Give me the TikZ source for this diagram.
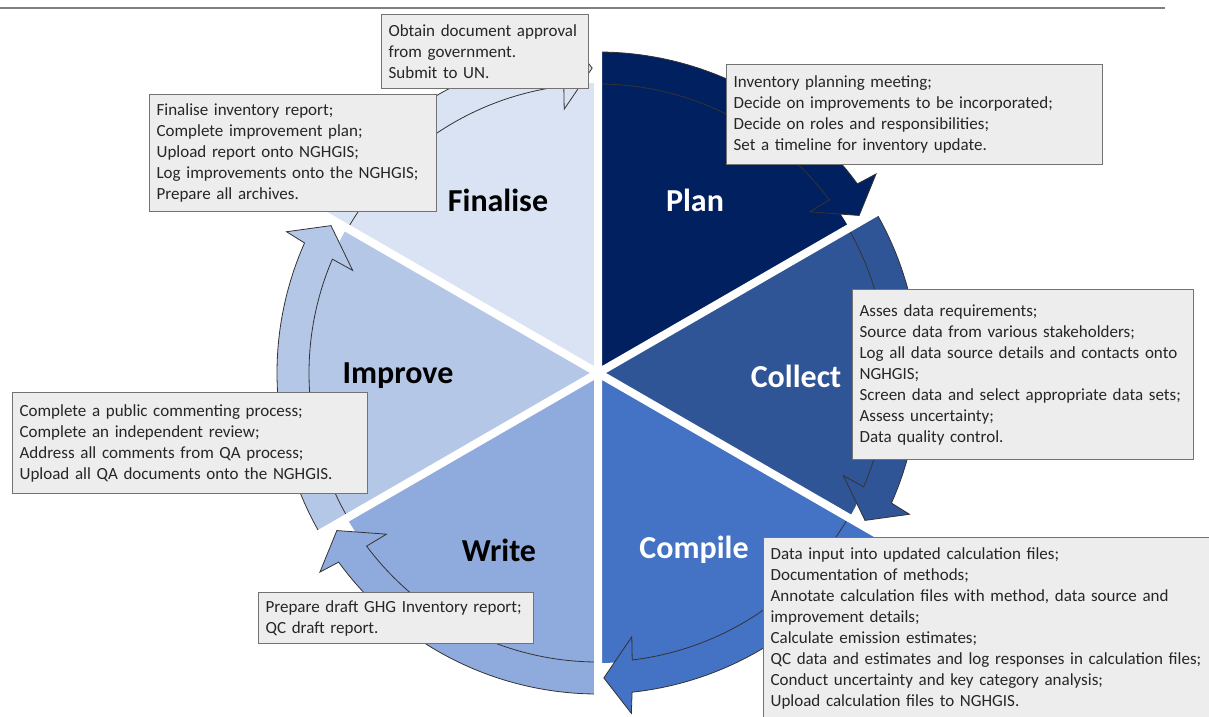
\documentclass[tikz,border=0pt]{standalone}
\usepackage{fontspec}
\setmainfont{Carlito}
\definecolor{plancol}{HTML}{002060}
\definecolor{collcol}{HTML}{2F5597}
\definecolor{compcol}{HTML}{4472C4}
\definecolor{writcol}{HTML}{8FAADC}
\definecolor{imprcol}{HTML}{B4C7E7}
\definecolor{finacol}{HTML}{DAE3F3}
\definecolor{notefill}{HTML}{EDEDED}
\begin{document}
\begin{tikzpicture}[x=1pt,y=1pt,
  band/.style={fill=#1,draw=black!80,line width=0.8pt,line join=miter},
  gap/.style={white,line width=8pt},
  lbl/.style={font=\fontsize{32}{38}\selectfont\bfseries},
  note/.style={draw=black!55,fill=notefill,line width=1.2pt,align=left,anchor=north west,
    inner xsep=7pt,inner ysep=0pt,font=\fontsize{17}{21}\selectfont,text=black!85}]
\useasboundingbox (-598,-343) rectangle (611,373);
\coordinate (O) at (0,0);
\draw[gray,line width=2.5pt] (-598,365)--(567,365);

% the six segments
\fill[plancol] (O)--(90:290) arc[start angle=90,end angle=30,radius=290]--cycle;
\filldraw[band=plancol] (90:321) arc[start angle=90,end angle=36.1,radius=321]--(35.6:342)--(31.1:305)--(37.3:266)--(36.8:289) arc[start angle=36.8,end angle=90,radius=289]--cycle;

\fill[collcol] (O)--(30:290) arc[start angle=30,end angle=-30,radius=290]--cycle;
\filldraw[band=collcol] (30:321) arc[start angle=30,end angle=-23.9,radius=321]--(-24.4:342)--(-28.9:305)--(-22.7:266)--(-23.2:289) arc[start angle=-23.2,end angle=30,radius=289]--cycle;

\fill[compcol] (O)--(-30:290) arc[start angle=-30,end angle=-90,radius=290]--cycle;
\filldraw[band=compcol] (-30:321) arc[start angle=-30,end angle=-83.9,radius=321]--(-84.4:342)--(-88.9:305)--(-82.7:266)--(-83.2:289) arc[start angle=-83.2,end angle=-30,radius=289]--cycle;

\fill[writcol] (O)--(-90:290) arc[start angle=-90,end angle=-150,radius=290]--cycle;
\filldraw[band=writcol] (-90:321) arc[start angle=-90,end angle=-143.9,radius=321]--(-144.4:342)--(-148.9:305)--(-142.7:266)--(-143.2:289) arc[start angle=-143.2,end angle=-90,radius=289]--cycle;

\fill[imprcol] (O)--(-150:290) arc[start angle=-150,end angle=-210,radius=290]--cycle;
\filldraw[band=imprcol] (-150:321) arc[start angle=-150,end angle=-203.9,radius=321]--(-204.4:342)--(-208.9:305)--(-202.7:266)--(-203.2:289) arc[start angle=-203.2,end angle=-150,radius=289]--cycle;

\fill[finacol] (O)--(150:290) arc[start angle=150,end angle=90,radius=290]--cycle;
\filldraw[band=finacol] (150:321) arc[start angle=150,end angle=96.1,radius=321]--(95.6:342)--(91.1:305)--(97.3:266)--(96.8:289) arc[start angle=96.8,end angle=150,radius=289]--cycle;

\draw[gap] (O)--(90:360) (O)--(30:360) (O)--(-30:360) (O)--(-90:360) (O)--(-150:360) (O)--(150:360);

% labels
\node[lbl,white] (plan) at (97,173) {Plan};
\node[lbl,white] (collect) at (198,-3) {Collect};
\node[lbl,white] (compile) at (96,-177) {Compile};
\node[lbl] (write) at (-99,-177) {Write};
\node[lbl] (improve) at (-200,-3) {Improve};
\node[lbl] (finalise) at (-100,173) {Finalise};

% notes
\node[note,text width=193pt,minimum height=74pt] (obtain) at (-217,359) {Obtain document approval\\from government.\\Submit to UN.};
\node[note,text width=273pt,minimum height=117pt] (finnote) at (-449,279) {Finalise inventory report;\\Complete improvement plan;\\Upload report onto NGHGIS;\\Log improvements onto the NGHGIS;\\Prepare all archives.};
\node[note,text width=362pt,minimum height=100pt] (plannote) at (128,309) {Inventory planning meeting;\\Decide on improvements to be incorporated;\\Decide on roles and responsibilities;\\Set a timeline for inventory update.};
\node[note,text width=327pt,minimum height=170pt] (collnote) at (254,84) {Asses data requirements;\\Source data from various stakeholders;\\Log all data source details and contacts onto\\NGHGIS;\\Screen data and select appropriate data sets;\\Assess uncertainty;\\Data quality control.};
\node[note,text width=341pt,minimum height=101pt] (imprnote) at (-586,-19) {Complete a public commenting process;\\Complete an independent review;\\Address all comments from QA process;\\Upload all QA documents onto the NGHGIS.};
\node[note,text width=261pt,minimum height=51pt] (writnote) at (-340,-219) {Prepare draft GHG Inventory report;\\QC draft report.};
\node[note,text width=456pt,minimum height=182pt] (compnote) at (165,-164) {Data input into updated calculation files;\\Documentation of methods;\\Annotate calculation files with method, data source and\\improvement details;\\Calculate emission estimates;\\QC data and estimates and log responses in calculation files;\\Conduct uncertainty and key category analysis;\\Upload calculation files to NGHGIS.};
\end{tikzpicture}
\end{document}
